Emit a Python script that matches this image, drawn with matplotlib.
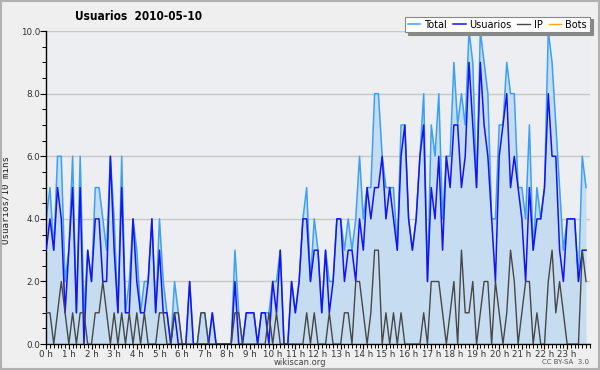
import numpy as np
from matplotlib import pyplot as plt

# Values per 10-minute slot, 2010-05-10 (144 slots)
usuarios = [3, 4, 3, 5, 4, 1, 3, 5, 1, 5, 0, 3, 2, 4, 4, 2, 2, 6, 3, 1, 5, 1, 1, 4,
            2, 1, 1, 2, 4, 1, 3, 1, 1, 0, 1, 0, 0, 0, 2, 0, 0, 0, 0, 0, 1, 0, 0, 0,
            0, 0, 2, 0, 0, 1, 1, 1, 0, 1, 1, 0, 2, 1, 3, 0, 0, 2, 1, 2, 4, 4, 2, 3,
            3, 1, 3, 1, 2, 4, 4, 2, 3, 3, 2, 4, 3, 5, 4, 5, 5, 6, 4, 5, 4, 3, 6, 7,
            4, 3, 4, 6, 7, 2, 5, 4, 6, 3, 6, 5, 7, 7, 5, 6, 9, 7, 5, 9, 7, 6, 4, 2,
            6, 7, 8, 5, 6, 5, 4, 2, 5, 3, 4, 4, 5, 8, 6, 6, 3, 2, 4, 4, 4, 2, 3, 3]
ip = [1, 1, 0, 1, 2, 1, 0, 1, 0, 1, 1, 0, 0, 1, 1, 2, 1, 0, 1, 0, 1, 0, 1, 0,
      1, 0, 1, 0, 0, 0, 1, 1, 0, 0, 1, 1, 0, 0, 0, 0, 0, 1, 1, 0, 0, 0, 0, 0,
      0, 0, 1, 1, 0, 0, 0, 0, 0, 0, 0, 1, 0, 1, 0, 0, 0, 0, 0, 0, 0, 1, 0, 1,
      0, 0, 0, 1, 0, 0, 0, 1, 1, 0, 2, 2, 1, 0, 1, 3, 3, 0, 1, 0, 1, 0, 1, 0,
      0, 0, 0, 0, 1, 0, 2, 2, 2, 1, 0, 1, 2, 0, 3, 1, 1, 2, 0, 1, 2, 2, 0, 2,
      1, 0, 1, 3, 2, 0, 1, 2, 2, 0, 1, 0, 0, 2, 3, 1, 2, 1, 0, 0, 0, 0, 3, 2]
total = [4, 5, 3, 6, 6, 2, 3, 6, 1, 6, 1, 3, 2, 5, 5, 4, 3, 6, 4, 1, 6, 1, 2, 4,
         3, 1, 2, 2, 4, 1, 4, 2, 1, 0, 2, 1, 0, 0, 2, 0, 0, 1, 1, 0, 1, 0, 0, 0,
         0, 0, 3, 1, 0, 1, 1, 1, 0, 1, 1, 1, 2, 2, 3, 0, 0, 2, 1, 2, 4, 5, 2, 4,
         3, 1, 3, 2, 2, 4, 4, 3, 4, 3, 4, 6, 4, 5, 5, 8, 8, 6, 5, 5, 5, 3, 7, 7,
         4, 3, 4, 6, 8, 2, 7, 6, 8, 4, 6, 6, 9, 7, 8, 7, 10, 9, 5, 10, 9, 8, 4, 4,
         7, 7, 9, 8, 8, 5, 5, 4, 7, 3, 5, 4, 5, 10, 9, 7, 5, 3, 4, 4, 4, 2, 6, 5]
bots = [0] * 144

hour_labels = ['%d h' % h for h in range(24)]
y_ticks = [0, 2, 4, 6, 8, 10]

c_total = '#3ca0f5'
c_fill = '#c6ddf1'
c_users = '#1414f0'
c_ip = '#474747'
c_bots = '#ffa31a'

fig = plt.figure(figsize=(6.0, 3.7), dpi=100, facecolor='#efefef')
ax = fig.add_axes([0.077, 0.070, 0.906, 0.846])
ax.set_facecolor('#eceef1')

x = np.arange(len(total))
ax.fill_between(x, total, 0, color=c_fill, lw=0, zorder=1)
ax.plot(x, total, color=c_total, lw=1.1, zorder=2, label='Total')
ax.plot(x, usuarios, color=c_users, lw=1.1, zorder=3, label='Usuarios')
ax.plot(x, ip, color=c_ip, lw=1.0, zorder=4, label='IP')
ax.plot(x, bots, color=c_bots, lw=1.0, zorder=0, label='Bots')

ax.set_xlim(0, 144)
ax.set_ylim(0, 10)
ax.set_yticks(y_ticks)
ax.set_yticklabels(['%.1f' % v for v in y_ticks])
ax.set_yticks(np.arange(0, 10.01, 0.5), minor=True)
ax.set_xticks(np.arange(0, 144, 6))
ax.set_xticklabels(hour_labels)
ax.set_xticks(np.arange(0, 145, 1), minor=True)
ax.tick_params(axis='both', labelsize=6.3, colors='black', pad=0.5)
ax.tick_params(axis='x', which='major', length=3.5, width=0.8)
ax.tick_params(axis='x', which='minor', length=3, width=0.7)
ax.tick_params(axis='y', which='major', length=4, width=0.8)
ax.tick_params(axis='y', which='minor', length=3, width=0.7)
for lbl in ax.get_xticklabels() + ax.get_yticklabels():
    lbl.set_color('#333333')

ax.grid(axis='y', which='major', color='#c8c8c8', lw=1.0, zorder=0)
ax.set_axisbelow(True)
ax.spines['top'].set_visible(False)
ax.spines['right'].set_visible(False)
ax.spines['left'].set_linewidth(1.0)
ax.spines['bottom'].set_linewidth(1.0)

ax.set_ylabel('Usuarios/10 mins', fontsize=6.6, family='DejaVu Sans Mono', color='#222222')
ax.yaxis.set_label_coords(-0.066, 0.46)

fig.text(0.125, 0.955, 'Usuarios  2010-05-10', fontsize=8.5, fontweight='bold', va='center',
         fontstretch='condensed')
fig.text(0.5, 0.02, 'wikiscan.org', fontsize=6, color='#444444', ha='center', va='center')
fig.text(0.982, 0.022, 'CC BY-SA  3.0', fontsize=5, color='#555555', ha='right', va='center')

leg = fig.legend(loc='upper right', bbox_to_anchor=(0.983, 0.955), ncol=4, fontsize=7,
                 frameon=True, fancybox=False, shadow={'color': '#888888', 'alpha': 1},
                 handlelength=1.3, handletextpad=0.4, columnspacing=0.6,
                 borderpad=0.3, borderaxespad=0)
leg.get_frame().set_edgecolor('#888888')
leg.get_frame().set_linewidth(0.8)
leg.get_frame().set_facecolor('white')

# outer border
fig.patches.append(plt.Rectangle((0.002, 0.003), 0.996, 0.994, transform=fig.transFigure,
                                 fill=False, edgecolor='#b0b0b0', lw=1.5))

fig.savefig('out.png', dpi=100, facecolor=fig.get_facecolor())
